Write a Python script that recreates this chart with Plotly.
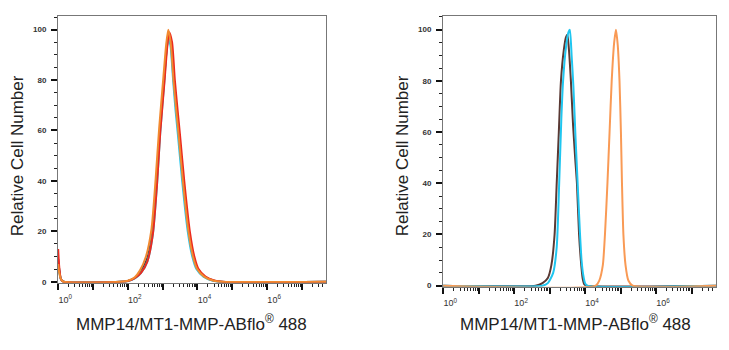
import numpy as np
import plotly.graph_objects as go

# ---------------- data (x given as log10 of fluorescence intensity) ----------------
# Left panel
L_dark_e = [0, 0.03, 0.08, 0.15, 1.8, 2.0, 2.2, 2.37, 2.55, 2.71, 2.83, 2.92, 3.04, 3.12, 3.18, 3.25, 3.32, 3.40, 3.47, 3.59, 3.75, 3.88, 4.0, 4.2, 4.45, 4.7, 7.7]
L_dark_y = [9, 5, 1, 0, 0, 0.3, 1.5, 4, 9, 20, 40, 60, 80, 93, 98, 94, 80, 68, 58, 40, 20, 10, 5, 2, 0.5, 0, 0]

L_cyan_e = [0, 0.03, 0.08, 0.15, 1.8, 2.0, 2.2, 2.38, 2.56, 2.72, 2.84, 2.93, 3.05, 3.12, 3.17, 3.23, 3.30, 3.37, 3.44, 3.56, 3.72, 3.85, 3.97, 4.17, 4.42, 4.65, 7.7]
L_cyan_y = [8, 4, 1, 0, 0, 0.3, 1.3, 3.5, 8, 19, 39, 59, 80, 93, 97, 93, 80, 68, 58, 40, 20, 10, 5, 2, 0.5, 0, 0]

L_red_e = [0, 0.03, 0.08, 0.15, 1.8, 2.0, 2.2, 2.38, 2.56, 2.72, 2.84, 2.93, 3.05, 3.13, 3.19, 3.27, 3.35, 3.43, 3.50, 3.62, 3.78, 3.91, 4.03, 4.23, 4.48, 4.72, 7.7]
L_red_y = [13, 6, 1, 0, 0, 0.3, 1.4, 3.5, 8, 19, 39, 59, 79, 93, 99, 95, 80, 68, 58, 40, 20, 10, 5, 2, 0.5, 0, 0]

L_orange_e = [0, 0.03, 0.08, 0.15, 1.8, 2.0, 2.2, 2.35, 2.52, 2.68, 2.80, 2.90, 3.02, 3.10, 3.16, 3.23, 3.31, 3.39, 3.46, 3.58, 3.74, 3.87, 3.99, 4.19, 4.44, 4.7, 7.7]
L_orange_y = [7, 3.5, 1, 0, 0, 0.4, 1.8, 4.5, 10, 21, 41, 61, 81, 94, 100, 95, 80, 68, 58, 40, 20, 10, 5, 2, 0.5, 0, 0]

# Right panel
R_dark_e = [0, 2.6, 2.8, 2.95, 3.05, 3.14, 3.20, 3.26, 3.32, 3.40, 3.46, 3.50, 3.54, 3.60, 3.66, 3.72, 3.77, 3.83, 3.88, 3.93, 3.98, 4.05, 7.7]
R_dark_y = [0, 0, 1, 3, 8, 20, 40, 60, 80, 92, 97, 98, 93, 80, 63, 50, 40, 20, 10, 3, 0.5, 0, 0]

R_cyan_e = [0, 2.8, 2.95, 3.10, 3.20, 3.27, 3.33, 3.38, 3.46, 3.53, 3.57, 3.62, 3.67, 3.73, 3.79, 3.85, 3.90, 3.95, 4.00, 4.06, 7.7]
R_cyan_y = [0, 0, 1, 5, 15, 40, 65, 80, 93, 99, 100, 90, 78, 58, 40, 22, 10, 4, 1, 0, 0]

R_orange_e = [0, 4.30, 4.40, 4.50, 4.56, 4.63, 4.69, 4.75, 4.82, 4.87, 4.92, 4.97, 5.01, 5.04, 5.08, 5.14, 5.22, 5.34, 7.7]
R_orange_y = [0, 0, 2, 8, 20, 40, 60, 80, 95, 100, 94, 80, 60, 40, 20, 8, 2, 0, 0]

decades = [0, 1, 2, 3, 4, 5, 6, 7]
tick_text = ["10<sup>0</sup>", "", "10<sup>2</sup>", "", "10<sup>4</sup>", "", "10<sup>6</sup>", ""]
y_ticks = [0, 20, 40, 60, 80, 100]
x_title = "MMP14/MT1-MMP-ABflo<sup>®</sup> 488"
y_title = "Relative Cell Number"

left_series = [(L_dark_e, L_dark_y, "#3d3d3d"), (L_cyan_e, L_cyan_y, "#22c6ee"),
               (L_red_e, L_red_y, "#ec2a1f"), (L_orange_e, L_orange_y, "#f28a30")]
right_series = [(R_dark_e, R_dark_y, "#5a3934"), (R_cyan_e, R_cyan_y, "#1fc6f0"),
                (R_orange_e, R_orange_y, "#f99a55")]

# ---------------- figure ----------------
fig = go.Figure()
for e, y, c in left_series:
    fig.add_trace(go.Scatter(x=10 ** np.array(e, dtype=float), y=y, mode="lines", xaxis="x", yaxis="y",
                             line=dict(color=c, width=2, shape="spline", smoothing=0.6), showlegend=False,
                             hoverinfo="skip"))
for e, y, c in right_series:
    fig.add_trace(go.Scatter(x=10 ** np.array(e, dtype=float), y=y, mode="lines", xaxis="x2", yaxis="y2",
                             line=dict(color=c, width=2, shape="spline", smoothing=0.6), showlegend=False,
                             hoverinfo="skip"))

W, H = 729, 350
minor_x = [m * 10 ** d for d in range(8) for m in range(2, 10)]


def xaxis_cfg(x0, x1):
    return dict(domain=[x0 / W, x1 / W], type="log", range=[-0.005, 7.69],
                tickvals=[10 ** d for d in decades], ticktext=tick_text,
                ticks="outside", ticklen=6, tickwidth=2, tickcolor="#111",
                minor=dict(tickvals=minor_x, ticks="outside", ticklen=3, tickwidth=1, tickcolor="#222"),
                showline=True, linecolor="#777", linewidth=1, mirror=True,
                showgrid=False, zeroline=False, ticklabelshift=7, ticklabelstandoff=2,
                tickfont=dict(family="Liberation Sans", size=9, color="#333"))


def yaxis_cfg(y_top, y_bot, lo, hi, anchor):
    return dict(domain=[1 - y_bot / H, 1 - y_top / H], range=[lo, hi], anchor=anchor,
                tickvals=y_ticks, ticks="outside", ticklen=6, tickwidth=2, tickcolor="#111",
                minor=dict(dtick=5, ticks="outside", ticklen=3, tickwidth=1, tickcolor="#222"),
                showline=True, linecolor="#777", linewidth=1, mirror=True,
                showgrid=False, zeroline=False, ticklabelstandoff=3,
                tickfont=dict(family="Liberation Sans", size=8, color="#333", weight="bold"))


fig.update_layout(
    width=W, height=H, margin=dict(l=0, r=0, t=0, b=0),
    paper_bgcolor="white", plot_bgcolor="white",
    xaxis=dict(anchor="y", **xaxis_cfg(58, 326)),
    yaxis=yaxis_cfg(16, 286, -0.4, 105.5, "x"),
    xaxis2=dict(anchor="y2", **xaxis_cfg(443, 716)),
    yaxis2=yaxis_cfg(16, 290, -0.4, 105.4, "x2"),
)

title_font = dict(family="Liberation Sans", size=17, color="#222")
for xc, yx in [(191, 17), (575, 402)]:
    fig.add_annotation(text=x_title, xref="paper", yref="paper", x=xc / W, y=1 - 327 / H,
                       xanchor="center", yanchor="middle", showarrow=False, font=title_font)
    fig.add_annotation(text=y_title, xref="paper", yref="paper", x=yx / W, y=1 - 158 / H,
                       xanchor="center", yanchor="middle", showarrow=False, textangle=-90, font=title_font)

fig.write_html("out.html")
